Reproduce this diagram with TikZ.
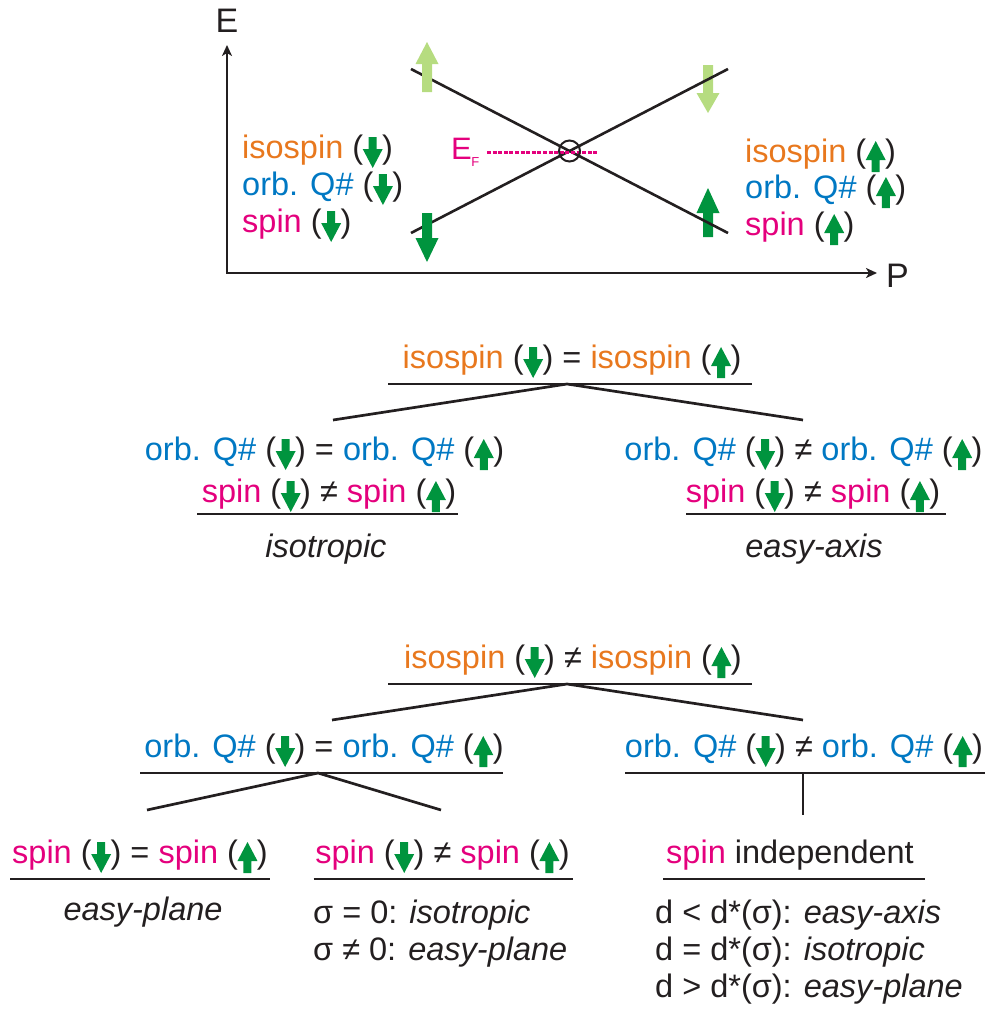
\documentclass[tikz,border=0pt]{standalone}
\usepackage{fontspec}
\setmainfont{Liberation Sans}
\usetikzlibrary{arrows.meta,calc}

\definecolor{isoorange}{RGB}{232,120,30}
\definecolor{orbblue}{RGB}{0,120,195}
\definecolor{spinmag}{RGB}{228,0,125}
\definecolor{arrgreen}{RGB}{0,148,62}
\definecolor{lightgreen}{RGB}{182,220,128}
\definecolor{inkblack}{RGB}{35,31,32}

% small inline block arrows used inside the parentheses
\newcommand\dnarr{(\kern-0.5pt\tikz[x=1pt,y=1pt,baseline=0pt]\fill[arrgreen] (-4,21)--(4,21)--(4,9)--(10,9)--(0,-10)--(-10,9)--(-4,9)--cycle;\kern-0.5pt)}
\newcommand\uparr{(\kern-0.5pt\tikz[x=1pt,y=1pt,baseline=0pt]\fill[arrgreen] (-4,-10)--(4,-10)--(4,2)--(10,2)--(0,21)--(-10,2)--(-4,2)--cycle;\kern-0.5pt)}
\newcommand\iso{\textcolor{isoorange}{isospin}}
\newcommand\orb{\textcolor{orbblue}{orb. Q\#}}
\newcommand\spn{\textcolor{spinmag}{spin}}

% large block arrow: x, tail y, head-base y, tip y, colour
\newcommand\bigarrow[5]{\fill[#5] ({#1-5},#2) -- ({#1+5},#2) -- ({#1+5},#3) -- ({#1+11.5},#3) -- (#1,#4) -- ({#1-11.5},#3) -- ({#1-5},#3) -- cycle;}

\begin{document}
\begin{tikzpicture}[x=1pt,y=-1pt,
  txt/.style={font=\fontsize{32.5}{39}\selectfont, inner sep=0pt, text=inkblack},
  axlbl/.style={font=\fontsize{34}{40}\selectfont, inner sep=0pt, text=inkblack},
  rule/.style={draw=inkblack, line width=2.7pt},
  band/.style={draw=inkblack, line width=2.6pt},
  axis/.style={draw=inkblack, line width=2.4pt},
  efline/.style={draw=spinmag, line width=3pt, dash pattern=on 4pt off 1.6pt}]
\useasboundingbox (0,0) rectangle (989,1021);

% ---------- dispersion sketch ----------
\draw[axis, {Stealth[length=11pt,width=10pt,inset=3pt]}-{Stealth[length=11pt,width=10pt,inset=3pt]}]
  (227,45) -- (227,273) -- (877,273);
\node[axlbl, anchor=base] (Elab) at (227,32) {E};
\node[axlbl, anchor=base west] (Plab) at (886,287) {P};

\coordinate (bandAs) at (411,69);
\coordinate (bandAe) at (728,233);
\coordinate (bandBs) at (411,233);
\coordinate (bandBe) at (728,69);

\bigarrow{708}{65}{93}{113}{lightgreen}
\bigarrow{708}{237}{213}{188}{arrgreen}
\draw[band] (bandAs) -- (bandAe);
\draw[band] (bandBs) -- (bandBe);
\bigarrow{427}{92}{64}{42}{lightgreen}
\bigarrow{427}{213}{238}{262}{arrgreen}

\node[text=spinmag, inner sep=0pt, anchor=base west, font=\fontsize{31}{36}\selectfont] (EF) at (451,159)
  {E\kern-0.5pt\raisebox{-7pt}{\fontsize{13}{15}\selectfont F}};
\coordinate (EFend) at (597,152);
\draw[efline] (487,152) -- (EFend);
\node[circle, draw=inkblack, line width=2pt, minimum size=21pt, inner sep=0pt] (dirac) at (569.5,151) {};

\node[txt, anchor=base west] (Liso) at (242,158) {\iso{} \dnarr};
\node[txt, anchor=base west] (Lorb) at (242,195) {\orb{} \dnarr};
\node[txt, anchor=base west] (Lspn) at (242,232) {\spn{} \dnarr};
\node[txt, anchor=base west] (Riso) at (745,162) {\iso{} \uparr};
\node[txt, anchor=base west] (Rorb) at (745,198) {\orb{} \uparr};
\node[txt, anchor=base west] (Rspn) at (745,235) {\spn{} \uparr};

% ---------- first tree: equal isospin ----------
\node[txt, anchor=base] (t1top) at (572,368) {\iso{} \dnarr{} = \iso{} \uparr};
\draw[rule] ($(t1top.base)+(-184,16)$) -- ($(t1top.base)+(180,16)$);
\coordinate (t1apex) at (567,384);
\coordinate (t1L) at (333,420);
\coordinate (t1R) at (803,420);
\draw[rule] (t1L) -- (t1apex) -- (t1R);

\node[txt, anchor=base] (t1Lorb) at (324.5,460) {\orb{} \dnarr{} = \orb{} \uparr};
\node[txt, anchor=base] (t1Lspn) at (329,502) {\spn{} \dnarr{} ≠ \spn{} \uparr};
\draw[rule] ($(t1Lspn.base)+(-132,12)$) -- ($(t1Lspn.base)+(129,12)$);
\node[txt, anchor=base] (t1Lres) at (326,557) {\textit{isotropic}};

\node[txt, anchor=base] (t1Rorb) at (803.5,460) {\orb{} \dnarr{} ≠ \orb{} \uparr};
\node[txt, anchor=base] (t1Rspn) at (813,502) {\spn{} \dnarr{} ≠ \spn{} \uparr};
\draw[rule] ($(t1Rspn.base)+(-127,12)$) -- ($(t1Rspn.base)+(133,12)$);
\node[txt, anchor=base] (t1Rres) at (814,557) {\textit{easy-axis}};

% ---------- second tree: different isospin ----------
\node[txt, anchor=base] (t2top) at (573,668) {\iso{} \dnarr{} ≠ \iso{} \uparr};
\draw[rule] ($(t2top.base)+(-185,16)$) -- ($(t2top.base)+(179,16)$);
\coordinate (t2apex) at (567,684);
\coordinate (t2L) at (332,720);
\coordinate (t2R) at (803,720);
\draw[rule] (t2L) -- (t2apex) -- (t2R);

\node[txt, anchor=base] (t2Lorb) at (324,757) {\orb{} \dnarr{} = \orb{} \uparr};
\draw[rule] ($(t2Lorb.base)+(-184,16)$) -- ($(t2Lorb.base)+(179,16)$);
\coordinate (t2Lapex) at (318,773);
\coordinate (t2LL) at (147,810);
\coordinate (t2LR) at (441,810);
\draw[rule] (t2LL) -- (t2Lapex) -- (t2LR);

\node[txt, anchor=base] (t2Rorb) at (804,757) {\orb{} \dnarr{} ≠ \orb{} \uparr};
\draw[rule] ($(t2Rorb.base)+(-179,16)$) -- ($(t2Rorb.base)+(181,16)$);
\coordinate (t2Rfoot) at (803,773);
\coordinate (t2Rend) at (803,815);
\draw[rule] (t2Rfoot) -- (t2Rend);

\node[txt, anchor=base] (b1) at (140,863) {\spn{} \dnarr{} = \spn{} \uparr};
\draw[rule] ($(b1.base)+(-130,16)$) -- ($(b1.base)+(130,16)$);
\node[txt, anchor=base] (b1res) at (143,920) {\textit{easy-plane}};

\node[txt, anchor=base] (b2) at (442.5,863) {\spn{} \dnarr{} ≠ \spn{} \uparr};
\draw[rule] ($(b2.base)+(-129,16)$) -- ($(b2.base)+(130,16)$);
\node[txt, anchor=base west] (b2r1) at (313,923) {σ = 0: \textit{isotropic}};
\node[txt, anchor=base west] (b2r2) at (313,960) {σ ≠ 0: \textit{easy-plane}};

\node[txt, anchor=base] (b3) at (790,863) {\spn{} independent};
\draw[rule] ($(b3.base)+(-127,16)$) -- ($(b3.base)+(135,16)$);
\node[txt, anchor=base west] (b3r1) at (655,923) {d < d*(σ): \textit{easy-axis}};
\node[txt, anchor=base west] (b3r2) at (655,960) {d = d*(σ): \textit{isotropic}};
\node[txt, anchor=base west] (b3r3) at (655,997) {d > d*(σ): \textit{easy-plane}};
\end{tikzpicture}
\end{document}
